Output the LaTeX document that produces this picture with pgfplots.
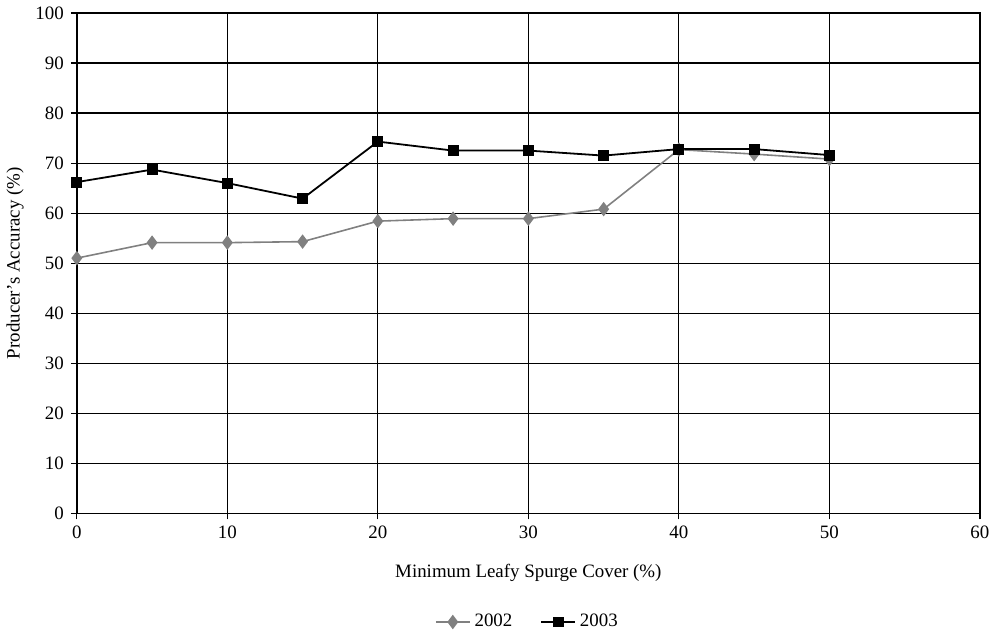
\documentclass[border=0pt]{standalone}
\usepackage{pgfplots}
\pgfplotsset{compat=1.18}
\usepackage{fontspec}
\setmainfont{Liberation Serif}
\definecolor{series02}{RGB}{128,128,128}
\begin{document}
\begin{tikzpicture}
\begin{axis}[
  scale only axis,
  width=454pt, height=251.5pt,
  xmin=0, xmax=60, ymin=0, ymax=100,
  xtick={0,10,...,60}, ytick={0,10,...,100},
  tick align=outside, tick pos=left,
  major tick length=3pt,
  grid=major,
  grid style={black, line width=0.6pt},
  axis line style={black, line width=0.8pt},
  every tick/.style={black, line width=0.6pt},
  /pgf/number format/assume math mode=true,
  tick label style={font=\fontsize{9.5}{11}\selectfont},
  label style={font=\fontsize{9.5}{11}\selectfont},
  xlabel={Minimum Leafy Spurge Cover (\%)},
  ylabel={Producer's Accuracy (\%)},
  xlabel style={yshift=-6pt},
  ylabel style={yshift=-1pt},
  legend style={at={(0.5,-0.185)}, anchor=north, draw=none,
    legend columns=2, font=\fontsize{9.5}{11}\selectfont,
    /tikz/every even column/.append style={column sep=12pt}},
  legend cell align=left,
]
\addplot[series02, line width=0.8pt, mark=diamond*, mark size=3pt,
  mark options={fill=series02, draw=series02}] coordinates {
  (0,51.0) (5,54.1) (10,54.1) (15,54.3) (20,58.4) (25,58.9)
  (30,58.9) (35,60.8) (40,72.7) (45,71.8) (50,70.8)
};
\addlegendentry{2002}
\addplot[black, line width=0.9pt, mark=square*, mark size=2.3pt,
  mark options={fill=black}] coordinates {
  (0,66.2) (5,68.7) (10,66.0) (15,62.9) (20,74.3) (25,72.5)
  (30,72.5) (35,71.5) (40,72.8) (45,72.8) (50,71.6)
};
\addlegendentry{2003}
\end{axis}
\end{tikzpicture}
\end{document}
